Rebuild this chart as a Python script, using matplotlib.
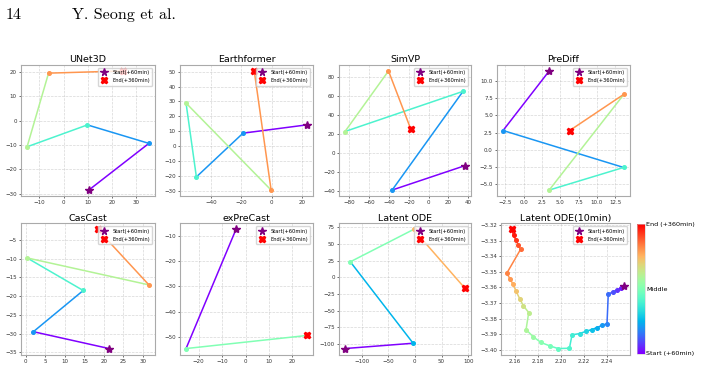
import numpy as np
import matplotlib.pyplot as plt

# trajectories (x, y) from +60min to +360min
unet3d_x = [10.5, 35.4, 9.9, -15.1, -6.2, 24.8]
unet3d_y = [-28.5, -9.3, -1.7, -10.7, 19.6, 20.5]
earthformer_x = [23.1, -19.0, -49.7, -56.5, -0.5, -11.6]
earthformer_y = [14.3, 8.7, -20.7, 28.9, -29.5, 50.5]
simvp_x = [36.9, -36.8, 34.9, -84.5, -40.5, -17.8]
simvp_y = [-13.3, -38.9, 64.6, 22.5, 86.0, 24.6]
prediff_x = [3.5, -2.8, 13.65, 3.5, 13.7, 6.3]
prediff_y = [11.5, 2.8, -2.6, -5.9, 8.1, 2.8]
cascast_x = [21.3, 1.96, 14.7, 0.35, 31.5, 18.4]
cascast_y = [-34.0, -29.5, -18.5, -9.8, -17.0, -2.2]
exprecast_x = [-4.1, -25.4, 26.2]
exprecast_y = [-7.35, -54.7, -49.5]
latentode_x = [-131, -3.3, -121, -2.5, 94]
latentode_y = [-107, -99, 23.4, 72, -16.5]
latentode10_x = [2.2548, 2.2517, 2.2485, 2.2448, 2.2410, 2.2399, 2.2359, 2.2313,
                 2.2267, 2.2218, 2.2160, 2.2095, 2.2072, 2.1974, 2.1902, 2.1824,
                 2.1755, 2.1695, 2.1718, 2.1672, 2.1641, 2.1609, 2.1583, 2.1554,
                 2.1528, 2.1647, 2.1626, 2.1606, 2.1586, 2.1572]
latentode10_y = [-3.3592, -3.3605, -3.3617, -3.3630, -3.3643, -3.3833, -3.3842, -3.3857,
                 -3.3870, -3.3881, -3.3896, -3.3904, -3.3990, -3.3992, -3.3975, -3.3953,
                 -3.3915, -3.3870, -3.3761, -3.3718, -3.3674, -3.3626, -3.3581, -3.3544,
                 -3.3508, -3.3356, -3.3326, -3.3294, -3.3266, -3.3228]

# tick labels
unet3d_ticks = ([-10, 0, 10, 20, 30], [-30, -20, -10, 0, 10, 20])
earthformer_ticks = ([-40, -20, 0, 20], [-30, -20, -10, 0, 10, 20, 30, 40, 50])
simvp_ticks = ([-80, -60, -40, -20, 0, 20, 40], [-40, -20, 0, 20, 40, 60, 80])
prediff_ticks = ([-2.5, 0.0, 2.5, 5.0, 7.5, 10.0, 12.5], [-5.0, -2.5, 0.0, 2.5, 5.0, 7.5, 10.0])
cascast_ticks = ([0, 5, 10, 15, 20, 25, 30], [-35, -30, -25, -20, -15, -10, -5])
exprecast_ticks = ([-20, -10, 0, 10, 20], [-50, -40, -30, -20, -10])
latentode_ticks = ([-100, -50, 0, 50, 100], [-100, -75, -50, -25, 0, 25, 50, 75])
latentode10_ticks = ([2.16, 2.18, 2.20, 2.22, 2.24],
                     [-3.40, -3.39, -3.38, -3.37, -3.36, -3.35, -3.34, -3.33, -3.32])
cbar_labels = ['Start (+60min)', 'Middle', 'End (+360min)']

W, H = 701, 368


def px_axes(fig, left, top, width, height):
    return fig.add_axes([left / W, 1 - (top + height) / H, width / W, height / H])


def trajectory(ax, xs, ys, title, ticks, fmt=None):
    n = len(xs)
    colors = plt.cm.rainbow(np.linspace(0, 1, n))
    for i in range(n - 1):
        ax.plot(xs[i:i + 2], ys[i:i + 2], color=colors[i], lw=1.1, zorder=2)
    for i in range(1, n - 1):
        ax.plot(xs[i], ys[i], 'o', color=colors[i], ms=2.6, zorder=3)
    ax.plot(xs[0], ys[0], '*', color='purple', ms=6, zorder=4, ls='none', label='Start(+60min)')
    ax.plot(xs[-1], ys[-1], 'X', color='red', ms=5, zorder=4, ls='none', label='End(+360min)')
    ax.set_title(title, fontsize=6.8, pad=2)
    ax.set_xticks(ticks[0])
    ax.set_yticks(ticks[1])
    if fmt:
        ax.set_xticklabels([fmt[0].format(v).replace('-', '\u2212') for v in ticks[0]])
        ax.set_yticklabels([fmt[1].format(v).replace('-', '\u2212') for v in ticks[1]])
    ax.tick_params(labelsize=4, length=1.5, width=0.5, pad=1.5, colors='#333333')
    ax.grid(True, ls='--', lw=0.5, alpha=0.5)
    for s in ax.spines.values():
        s.set_color('#aaaaaa')
        s.set_linewidth(0.8)
    ax.legend(loc='upper right', fontsize=3.7, markerscale=0.9, handlelength=1.5,
              borderpad=0.5, labelspacing=0.6, handletextpad=0.8)


fig = plt.figure(figsize=(7.01, 3.68), dpi=100)
fig.text(5.5 / W, 1 - 19 / H, '14', family='cmr10', fontsize=11.5)
fig.text(71.5 / W, 1 - 19 / H, 'Y. Seong et al.', family='cmr10', fontsize=11.5)

top1, top2, h = 65, 223.5, 131
trajectory(px_axes(fig, 21, top1, 134, h), unet3d_x, unet3d_y, 'UNet3D', unet3d_ticks)
trajectory(px_axes(fig, 180, top1, 133, h), earthformer_x, earthformer_y, 'Earthformer', earthformer_ticks)
trajectory(px_axes(fig, 339, top1, 132, h), simvp_x, simvp_y, 'SimVP', simvp_ticks)
trajectory(px_axes(fig, 497, top1, 133, h), prediff_x, prediff_y, 'PreDiff', prediff_ticks,
           fmt=('{:.1f}', '{:.1f}'))
trajectory(px_axes(fig, 21, top2, 134, h), cascast_x, cascast_y, 'CasCast', cascast_ticks)
trajectory(px_axes(fig, 180, top2, 133, h), exprecast_x, exprecast_y, 'exPreCast', exprecast_ticks)
trajectory(px_axes(fig, 339, top2, 132, h), latentode_x, latentode_y, 'Latent ODE', latentode_ticks)
ax = px_axes(fig, 501, top2, 129, h)
trajectory(ax, latentode10_x, latentode10_y, 'Latent ODE(10min)', latentode10_ticks,
           fmt=('{:.2f}', '{:.2f}'))

cax = px_axes(fig, 637, 224, 7.5, 129.5)
sm = plt.cm.ScalarMappable(cmap='rainbow', norm=plt.Normalize(0, 1))
cb = fig.colorbar(sm, cax=cax, ticks=[0, 0.5, 1])
cb.ax.set_yticklabels(cbar_labels)
cb.ax.tick_params(labelsize=4.6, length=0, pad=1)
cb.outline.set_linewidth(0.4)
cb.outline.set_edgecolor('#cccccc')

fig.savefig('out.png', dpi=100)
